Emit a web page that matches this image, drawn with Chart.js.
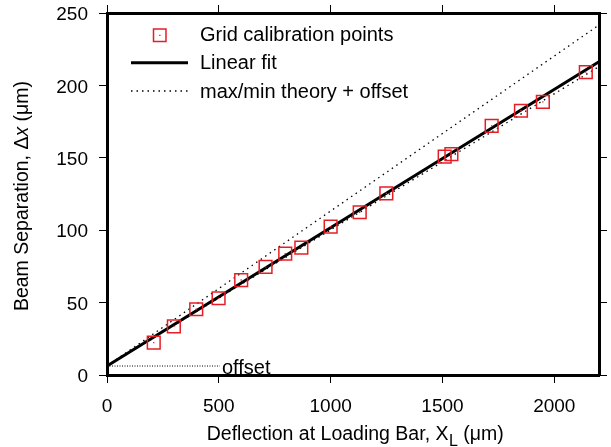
<!DOCTYPE html>
<html>
<head>
<meta charset="utf-8">
<script src="https://cdn.jsdelivr.net/npm/chart.js@4"></script>
<style>
  html, body { margin: 0; padding: 0; background: #fff; }
  #wrap { width: 611px; height: 447px; position: relative; }
</style>
</head>
<body>
<div id="wrap"><canvas id="c" width="611" height="447"></canvas></div>
<script>
// ---- data ----
const xCal = [209, 299, 399, 499, 600, 709, 797, 869, 1000, 1130, 1249, 1510, 1540, 1720, 1851, 1949, 2141];
const yCal = [22.3, 33.6, 45.4, 53.0, 65.6, 74.6, 83.8, 87.9, 102.4, 112.4, 125.5, 150.8, 152.6, 172.0, 182.5, 188.7, 209.2];
const fitX = [0, 2200];
const fitY = [6.2, 216.4];
const maxTheoryX = [0, 2200];
const maxTheoryY = [6.2, 241.7];
const minTheoryX = [0, 2200];
const minTheoryY = [6.2, 213.0];
const offsetX = [0, 505];
const offsetY = [6.2, 6.2];
const xTicks = [0, 500, 1000, 1500, 2000];
const yTicks = [0, 50, 100, 150, 200, 250];
const xRange = [0, 2200];
const yRange = [0, 250];

const legendLabels = ['Grid calibration points', 'Linear fit', 'max/min theory + offset'];
const offsetLabel = 'offset';

const RED = 'rgb(230,30,36)';
const FONT = '"Liberation Sans", Arial, Helvetica, sans-serif';

const pts = (xs, ys) => xs.map((x, i) => ({ x: x, y: ys[i] }));

function fixTicks(list) {
  return function (scale) { scale.ticks = list.map(v => ({ value: v })); };
}
function fixSize(prop, size) {
  return function (s) {
    s[prop] = size;
    s.paddingTop = 0; s.paddingBottom = 0; s.paddingLeft = 0; s.paddingRight = 0;
  };
}

const baseGrid = { drawOnChartArea: false, drawTicks: true, color: '#000', tickColor: '#000', tickLength: 8, tickWidth: 1, lineWidth: 1 };
const mirrorGrid = { drawOnChartArea: false, drawTicks: false, color: '#000' };
const baseBorder = { display: true, color: '#000', width: 3 };

const overlay = {
  id: 'overlay',
  afterDraw(chart) {
    const ctx = chart.ctx;
    const xs = chart.scales.x;
    const x2 = chart.scales.x2, y2 = chart.scales.y2;
    const area = chart.chartArea;
    ctx.save();
    ctx.setLineDash([]);
    ctx.globalAlpha = 1;

    // outward tick marks on the top and right axes (positions from the library's scales)
    ctx.fillStyle = '#000';
    xTicks.forEach(v => {
      const px = Math.floor(x2.getPixelForValue(v));
      ctx.fillRect(px, area.top - 8, 1, 8);
    });
    yTicks.forEach(v => {
      const py = Math.floor(y2.getPixelForValue(v));
      ctx.fillRect(area.right, py, 8, 1);
    });

    ctx.fillStyle = '#000';
    ctx.textBaseline = 'alphabetic';
    ctx.textAlign = 'left';

    // "offset" label
    ctx.font = '20px ' + FONT;
    ctx.fillText(offsetLabel, xs.getPixelForValue(offsetX[1]) + 2, 373.5);

    // legend
    const lx = 200, base = [41, 69.3, 97.6];
    ctx.font = '20px ' + FONT;
    ctx.fillText(legendLabels[0], lx, base[0]);
    ctx.fillText(legendLabels[1], lx, base[1]);
    ctx.fillText(legendLabels[2], lx, base[2]);
    ctx.strokeStyle = RED; ctx.lineWidth = 1.5;
    ctx.strokeRect(153.5, 29, 12.5, 12.5);
    ctx.fillStyle = RED; ctx.fillRect(159.2, 34.7, 1.3, 1.3);
    ctx.strokeStyle = '#000'; ctx.lineWidth = 3;
    ctx.beginPath(); ctx.moveTo(131, 62.7); ctx.lineTo(188, 62.7); ctx.stroke();
    ctx.lineWidth = 1.3; ctx.setLineDash([1.5, 4]);
    ctx.beginPath(); ctx.moveTo(131, 91); ctx.lineTo(188, 91); ctx.stroke();
    ctx.setLineDash([]);

    // x axis title with subscript
    ctx.fillStyle = '#000';
    const p1 = 'Deflection at Loading Bar, X', sub = 'L', p2 = ' (\u03bcm)';
    const mainF = '19.5px ' + FONT, subF = '16px ' + FONT;
    ctx.font = mainF;
    const w1 = ctx.measureText(p1).width, w3 = ctx.measureText(p2).width;
    ctx.font = subF;
    const w2 = ctx.measureText(sub).width;
    let sx = 355 - (w1 + w2 + w3) / 2;
    const ty = 439.5;
    ctx.font = mainF; ctx.fillText(p1, sx, ty); sx += w1;
    ctx.font = subF; ctx.fillText(sub, sx + 0.5, ty + 6); sx += w2 + 0.5;
    ctx.font = mainF; ctx.fillText(p2, sx, ty);

    // y axis title with italic x
    ctx.translate(27.5, 196);
    ctx.rotate(-Math.PI / 2);
    const q1 = 'Beam Separation, \u0394', q2 = 'x', q3 = ' (\u03bcm)';
    const yF = '19.5px ' + FONT, yI = 'italic 19.5px ' + FONT;
    ctx.font = yF;
    const v1 = ctx.measureText(q1).width, v3 = ctx.measureText(q3).width;
    ctx.font = yI;
    const v2 = ctx.measureText(q2).width;
    let qx = -(v1 + v2 + v3) / 2;
    ctx.font = yF; ctx.fillText(q1, qx, 0); qx += v1;
    ctx.font = yI; ctx.fillText(q2, qx, 0); qx += v2;
    ctx.font = yF; ctx.fillText(q3, qx, 0);
    ctx.restore();
  }
};

new Chart(document.getElementById('c'), {
  type: 'scatter',
  data: {
    datasets: [
      { label: legendLabels[0], data: pts(xCal, yCal), pointStyle: 'rect', pointRadius: 9, pointHoverRadius: 9,
        borderColor: RED, backgroundColor: 'rgba(0,0,0,0)', pointBorderWidth: 1.5, showLine: false, order: 1 },
      { label: 'centers', data: pts(xCal, yCal), pointStyle: 'rect', pointRadius: 0.9, borderColor: RED,
        backgroundColor: RED, pointBorderWidth: 0, showLine: false, order: 0 },
      { label: legendLabels[1], data: pts(fitX, fitY), showLine: true, pointRadius: 0, borderColor: '#000',
        borderWidth: 3, order: 2 },
      { label: 'max theory', data: pts(maxTheoryX, maxTheoryY), showLine: true, pointRadius: 0, borderColor: '#000',
        borderWidth: 1.3, borderDash: [1.5, 4], order: 3 },
      { label: 'min theory', data: pts(minTheoryX, minTheoryY), showLine: true, pointRadius: 0, borderColor: '#000',
        borderWidth: 1.3, borderDash: [1.5, 4], order: 3 },
      { label: 'offset', data: pts(offsetX, offsetY), showLine: true, pointRadius: 0, borderColor: '#000',
        borderWidth: 1, borderDash: [1, 1.5], order: 4 }
    ]
  },
  options: {
    responsive: false,
    animation: false,
    layout: { padding: 0 },
    plugins: { legend: { display: false }, tooltip: { enabled: false } },
    scales: {
      x: {
        type: 'linear', position: 'bottom', min: xRange[0], max: xRange[1],
        afterBuildTicks: fixTicks(xTicks),
        afterFit: fixSize('height', 72),
        ticks: { color: '#000', font: { family: FONT, size: 19 }, padding: 12, maxRotation: 0,
                 callback: v => String(v) },
        grid: baseGrid, border: baseBorder
      },
      x2: {
        type: 'linear', position: 'top', min: xRange[0], max: xRange[1],
        afterBuildTicks: fixTicks(xTicks),
        afterFit: fixSize('height', 13),
        ticks: { display: false },
        grid: mirrorGrid, border: baseBorder
      },
      y: {
        type: 'linear', position: 'left', min: yRange[0], max: yRange[1],
        afterBuildTicks: fixTicks(yTicks),
        afterFit: fixSize('width', 107),
        ticks: { color: '#000', font: { family: FONT, size: 19 }, padding: 11, labelOffset: 2,
                 callback: v => String(v) },
        grid: baseGrid, border: baseBorder
      },
      y2: {
        type: 'linear', position: 'right', min: yRange[0], max: yRange[1],
        afterBuildTicks: fixTicks(yTicks),
        afterFit: fixSize('width', 12),
        ticks: { display: false },
        grid: mirrorGrid, border: baseBorder
      }
    }
  },
  plugins: [overlay]
});
</script>
</body>
</html>
